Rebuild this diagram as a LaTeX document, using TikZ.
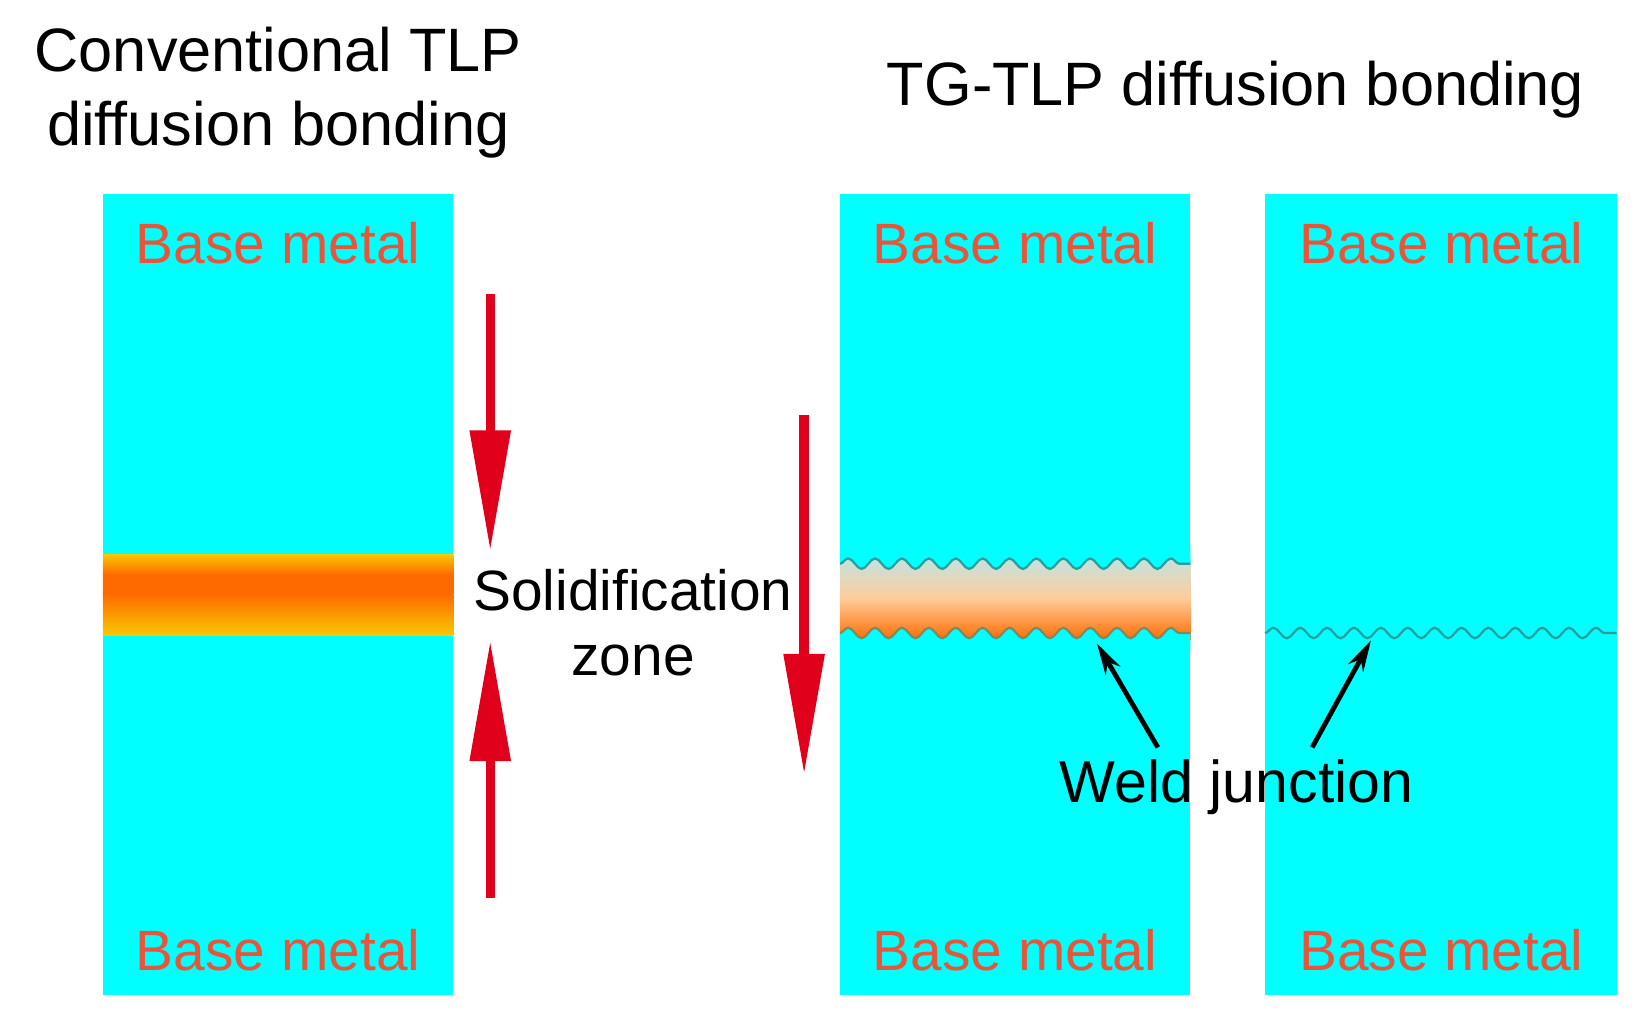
\documentclass[tikz,border=0pt]{standalone}
\usepackage{fontspec}
\setmainfont{Liberation Sans}
\usetikzlibrary{decorations.pathmorphing,arrows.meta}
\definecolor{cy}{HTML}{00FFFF}
\definecolor{bm}{HTML}{E8553A}
\definecolor{rd}{HTML}{E0001B}
\definecolor{wv}{HTML}{2A9D9D}
\definecolor{yl}{HTML}{F8C800}
\definecolor{og}{HTML}{FF6A00}
\begin{document}
\begin{tikzpicture}[x=0.01cm,y=-0.01cm,
  metal/.style={fill=cy,draw=none},
  bm/.style={text=bm,font=\fontsize{15.4}{18}\selectfont,inner sep=0},
  ttl/.style={font=\fontsize{16.6}{20}\selectfont,align=center,inner sep=0},
  lab/.style={font=\fontsize{15.4}{17.5}\selectfont,align=center,inner sep=0},
  red/.style={draw=rd,line width=0.09cm,-{Triangle[width=0.37cm,length=1.15cm]}},
  snk/.style={decoration={snake,segment length=0.256cm,amplitude=0.05cm}},
  wave/.style={draw=wv,line width=0.6pt,decorate,snk},
  blk/.style={draw=black,line width=1.3pt,-{Stealth[width=0.16cm,length=0.3cm]}}]
\useasboundingbox (0,0) rectangle (1568,981);
% boxes
\fill[metal] (98,185) rectangle (432,948);
\fill[metal] (800,185) rectangle (1134,948);
\fill[metal] (1205,185) rectangle (1540,948);
% conventional band
\shade[top color=yl,bottom color=og,middle color=og] (98,528) rectangle (432,566.5);
\shade[top color=og,bottom color=yl] (98,566) rectangle (432,605);
% TG band
\begin{scope}
\clip (800,520) rectangle (1134,620);
\shade[top color=cy!40!gray!35!white,bottom color=og,middle color=orange!40!white] (800,530) rectangle (1134,610);
\fill[cy,snk] (800,520) -- (800,537) decorate{-- (1134,537)} -- (1134,520) -- cycle;
\fill[cy,snk] (800,620) -- (800,603) decorate{-- (1134,603)} -- (1134,620) -- cycle;
\draw[wave] (800,537) -- (1134,537);
\draw[wave,draw=wv!60!og] (800,603) -- (1134,603);
\end{scope}
\draw[wave] (1205,603) -- (1540,603);
% texts
\node[ttl] (t1) at (265,88) {Conventional TLP\\diffusion bonding};
\node[ttl] (t2) at (1177,85) {TG-TLP diffusion bonding};
\node[bm] (b1) at (265,232) {Base metal};
\node[bm] (b2) at (967,232) {Base metal};
\node[bm] (b3) at (1373,232) {Base metal};
\node[bm] (b4) at (265,905) {Base metal};
\node[bm] (b5) at (967,905) {Base metal};
\node[bm] (b6) at (1373,905) {Base metal};
\node[lab] (sz) at (603,593) {Solidification\\zone};
\node[lab,font=\fontsize{16}{18}\selectfont] (wj) at (1178,750) {Weld junction};
% arrows
\coordinate (a1s) at (467,280); \coordinate (a1e) at (467,525);
\coordinate (a2s) at (467,855); \coordinate (a2e) at (467,610);
\coordinate (a3s) at (766,395); \coordinate (a3e) at (766,738);
\draw[red] (a1s) -- (a1e);
\draw[red] (a2s) -- (a2e);
\draw[red] (a3s) -- (a3e);
\coordinate (w1s) at (1103,712); \coordinate (w1e) at (1045,613);
\coordinate (w2s) at (1250,712); \coordinate (w2e) at (1306,610);
\draw[blk] (w1s) -- (w1e);
\draw[blk] (w2s) -- (w2e);
\end{tikzpicture}
\end{document}
